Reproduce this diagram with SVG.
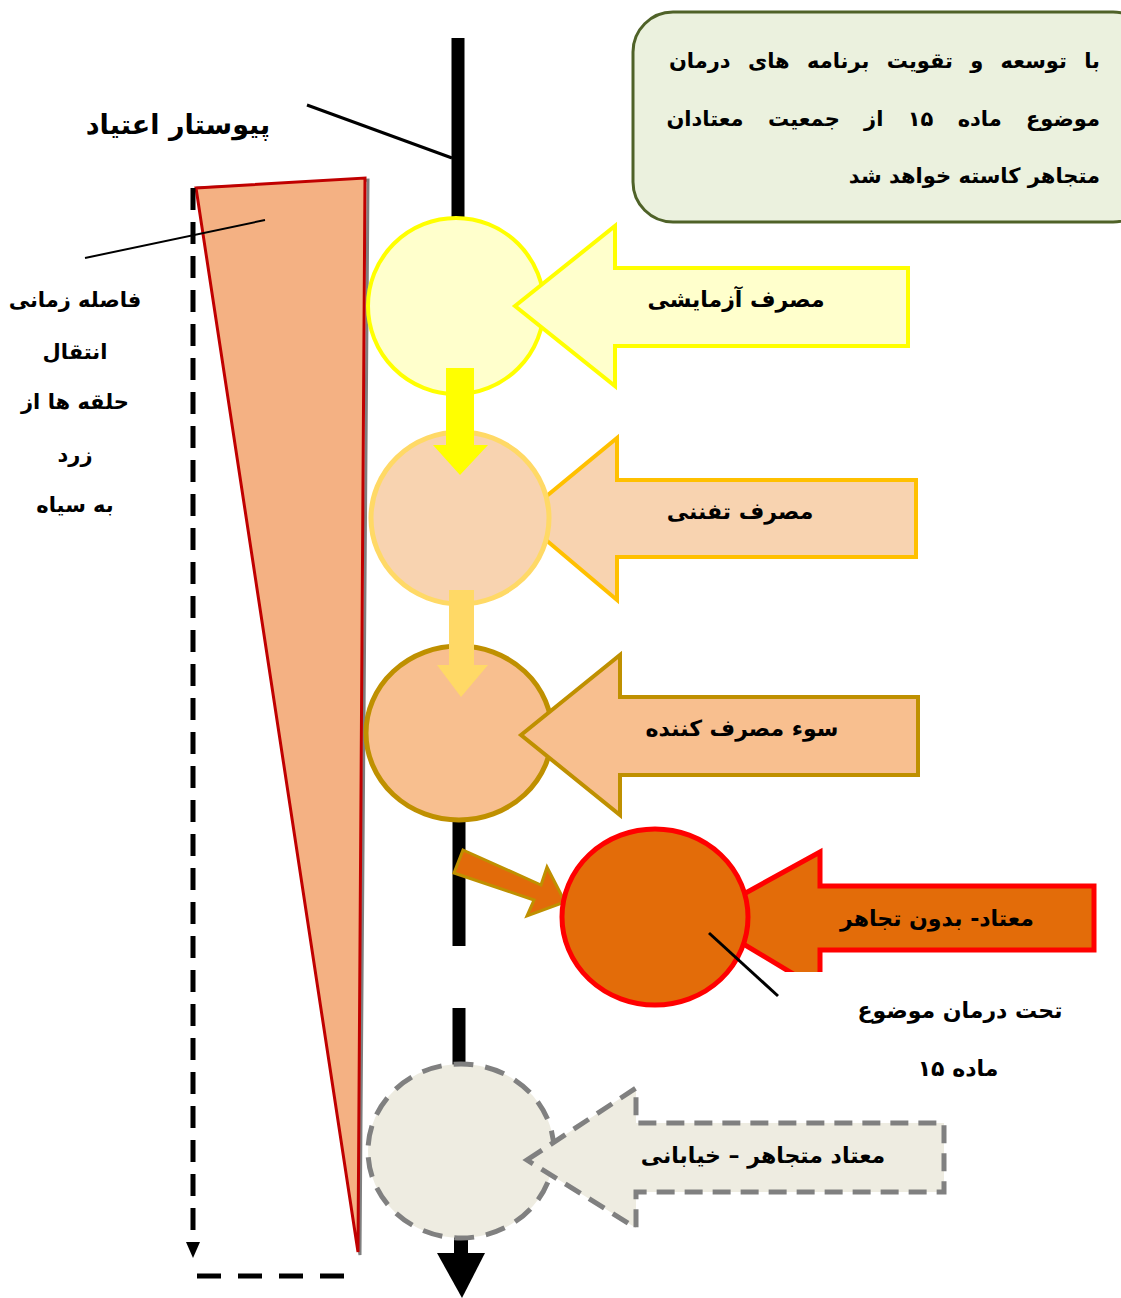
<svg xmlns="http://www.w3.org/2000/svg" width="1121" height="1298" viewBox="0 0 1121 1298">
<defs>
<style>
text{font-family:"DejaVu Sans","Noto Sans",sans-serif;font-weight:bold;fill:#000}
.t{font-size:22px}
.s{font-size:21px}
.l{font-size:21px}
</style>
<clipPath id="clip4"><rect x="700" y="800" width="421" height="172"/></clipPath>
</defs>
<rect width="1121" height="1298" fill="#fff"/>

<g id="note">
<rect x="633" y="12" width="520" height="210" rx="40" fill="#EBF1DE" stroke="#4F6228" stroke-width="3"/>
<text class="s" x="1100" y="68" text-anchor="end" style="word-spacing:10px">با توسعه و تقویت برنامه های درمان</text>
<text class="s" x="1100" y="126" text-anchor="end" style="word-spacing:17px">موضوع ماده ۱۵ از جمعیت معتادان</text>
<text class="s" x="1100" y="183" text-anchor="end">متجاهر کاسته خواهد شد</text>
</g>

<g id="wedge">
<polygon points="198,188 368,180 360,1255" fill="none" stroke="#7F7F7F" stroke-width="3"/>
<polygon points="196,188 365,178 358,1252" fill="#F4B183" stroke="#C00000" stroke-width="3"/>
</g>

<g id="connectors">
<line x1="458" y1="38" x2="458" y2="220" stroke="#000" stroke-width="13"/>
<line x1="459" y1="820" x2="459" y2="946" stroke="#000" stroke-width="13"/>
<line x1="459" y1="1008" x2="459" y2="1065" stroke="#000" stroke-width="13"/>
<line x1="461" y1="1235" x2="461" y2="1256" stroke="#000" stroke-width="14"/>
<polygon points="437,1253 485,1253 462,1298" fill="#000"/>
<line x1="307" y1="105" x2="452" y2="158" stroke="#000" stroke-width="3"/>
<line x1="85" y1="258" x2="265" y2="220" stroke="#000" stroke-width="2"/>
<line x1="193" y1="188" x2="193" y2="1240" stroke="#000" stroke-width="5" stroke-dasharray="22,12"/>
<polygon points="186,1242 200,1242 193,1258" fill="#000"/>
<line x1="197" y1="1276" x2="350" y2="1276" stroke="#000" stroke-width="5" stroke-dasharray="24,17"/>
</g>

<g id="n1">
<ellipse cx="456" cy="306" rx="88" ry="88" fill="#FFFFCC" stroke="#FFFF00" stroke-width="4"/>
<polygon points="515,306 615,226 615,268 908,268 908,346 615,346 615,386" fill="#FFFFCC" stroke="#FFFF00" stroke-width="4"/>
<text class="t" x="736" y="307" text-anchor="middle">مصرف آزمایشی</text>
</g>

<g id="n2">
<polygon points="520,518 617,438 617,480 916,480 916,557 617,557 617,600" fill="#F8D3B0" stroke="#FFC000" stroke-width="4"/>
<ellipse cx="460" cy="518" rx="89" ry="86" fill="#F8D3B0" stroke="#FFD966" stroke-width="5"/>
<text class="t" x="740" y="519" text-anchor="middle">مصرف تفننی</text>
</g>
<polygon id="down1" points="446,368 474,368 474,445 488,445 460,475 433,445 446,445" fill="#FFFF00"/>

<g id="n3">
<ellipse cx="459" cy="733" rx="93" ry="87" fill="#F8BF8F" stroke="#BF9000" stroke-width="5"/>
<polygon points="521,735 620,655 620,697 918,697 918,775 620,775 620,815" fill="#F8BF8F" stroke="#BF9000" stroke-width="4"/>
<text class="t" x="742" y="736" text-anchor="middle">سوء مصرف کننده</text>
</g>
<polygon id="down2" points="449,590 474,590 474,665 488,665 461,697 437,665 449,665" fill="#FFD966"/>

<polygon id="diag" points="463,850 541,885 547,867 565,902 527,916 534,900 454,873" fill="#E26B0A" stroke="#BF9000" stroke-width="3"/>

<g id="n4">
<g clip-path="url(#clip4)">
<polygon points="700,918 820,852 820,886 1094,886 1094,950 820,950 820,990" fill="#E36C09" stroke="#FF0000" stroke-width="5"/>
</g>
<ellipse cx="655" cy="917" rx="93" ry="88" fill="#E36C09" stroke="#FF0000" stroke-width="5"/>
<line x1="709" y1="933" x2="778" y2="996" stroke="#000" stroke-width="3"/>
<text class="t" x="937" y="926" text-anchor="middle">معتاد- بدون تجاهر</text>
</g>

<g id="label4">
<text class="t" x="960" y="1018" text-anchor="middle">تحت درمان موضوع</text>
<text class="t" x="958" y="1076" text-anchor="middle">ماده ۱۵</text>
</g>

<g id="n5">
<ellipse cx="461" cy="1151" rx="93" ry="87" fill="#EEECE1" stroke="#808080" stroke-width="5" stroke-dasharray="20,12"/>
<polygon points="527,1160 636,1088 636,1123 944,1123 944,1192 636,1192 636,1228" fill="#EEECE1" stroke="#808080" stroke-width="5" stroke-dasharray="18,10"/>
<text class="t" x="763" y="1163" text-anchor="middle">معتاد متجاهر – خیابانی</text>
</g>

<g id="title">
<text x="178" y="134" text-anchor="middle" style="font-size:27px">پیوستار اعتیاد</text>
</g>
<g id="sidelabel">
<text class="l" x="75" y="307" text-anchor="middle">فاصله زمانی</text>
<text class="l" x="75" y="359" text-anchor="middle">انتقال</text>
<text class="l" x="75" y="409" text-anchor="middle">حلقه ها از</text>
<text class="l" x="75" y="462" text-anchor="middle">زرد</text>
<text class="l" x="75" y="512" text-anchor="middle">به سیاه</text>
</g>
</svg>
